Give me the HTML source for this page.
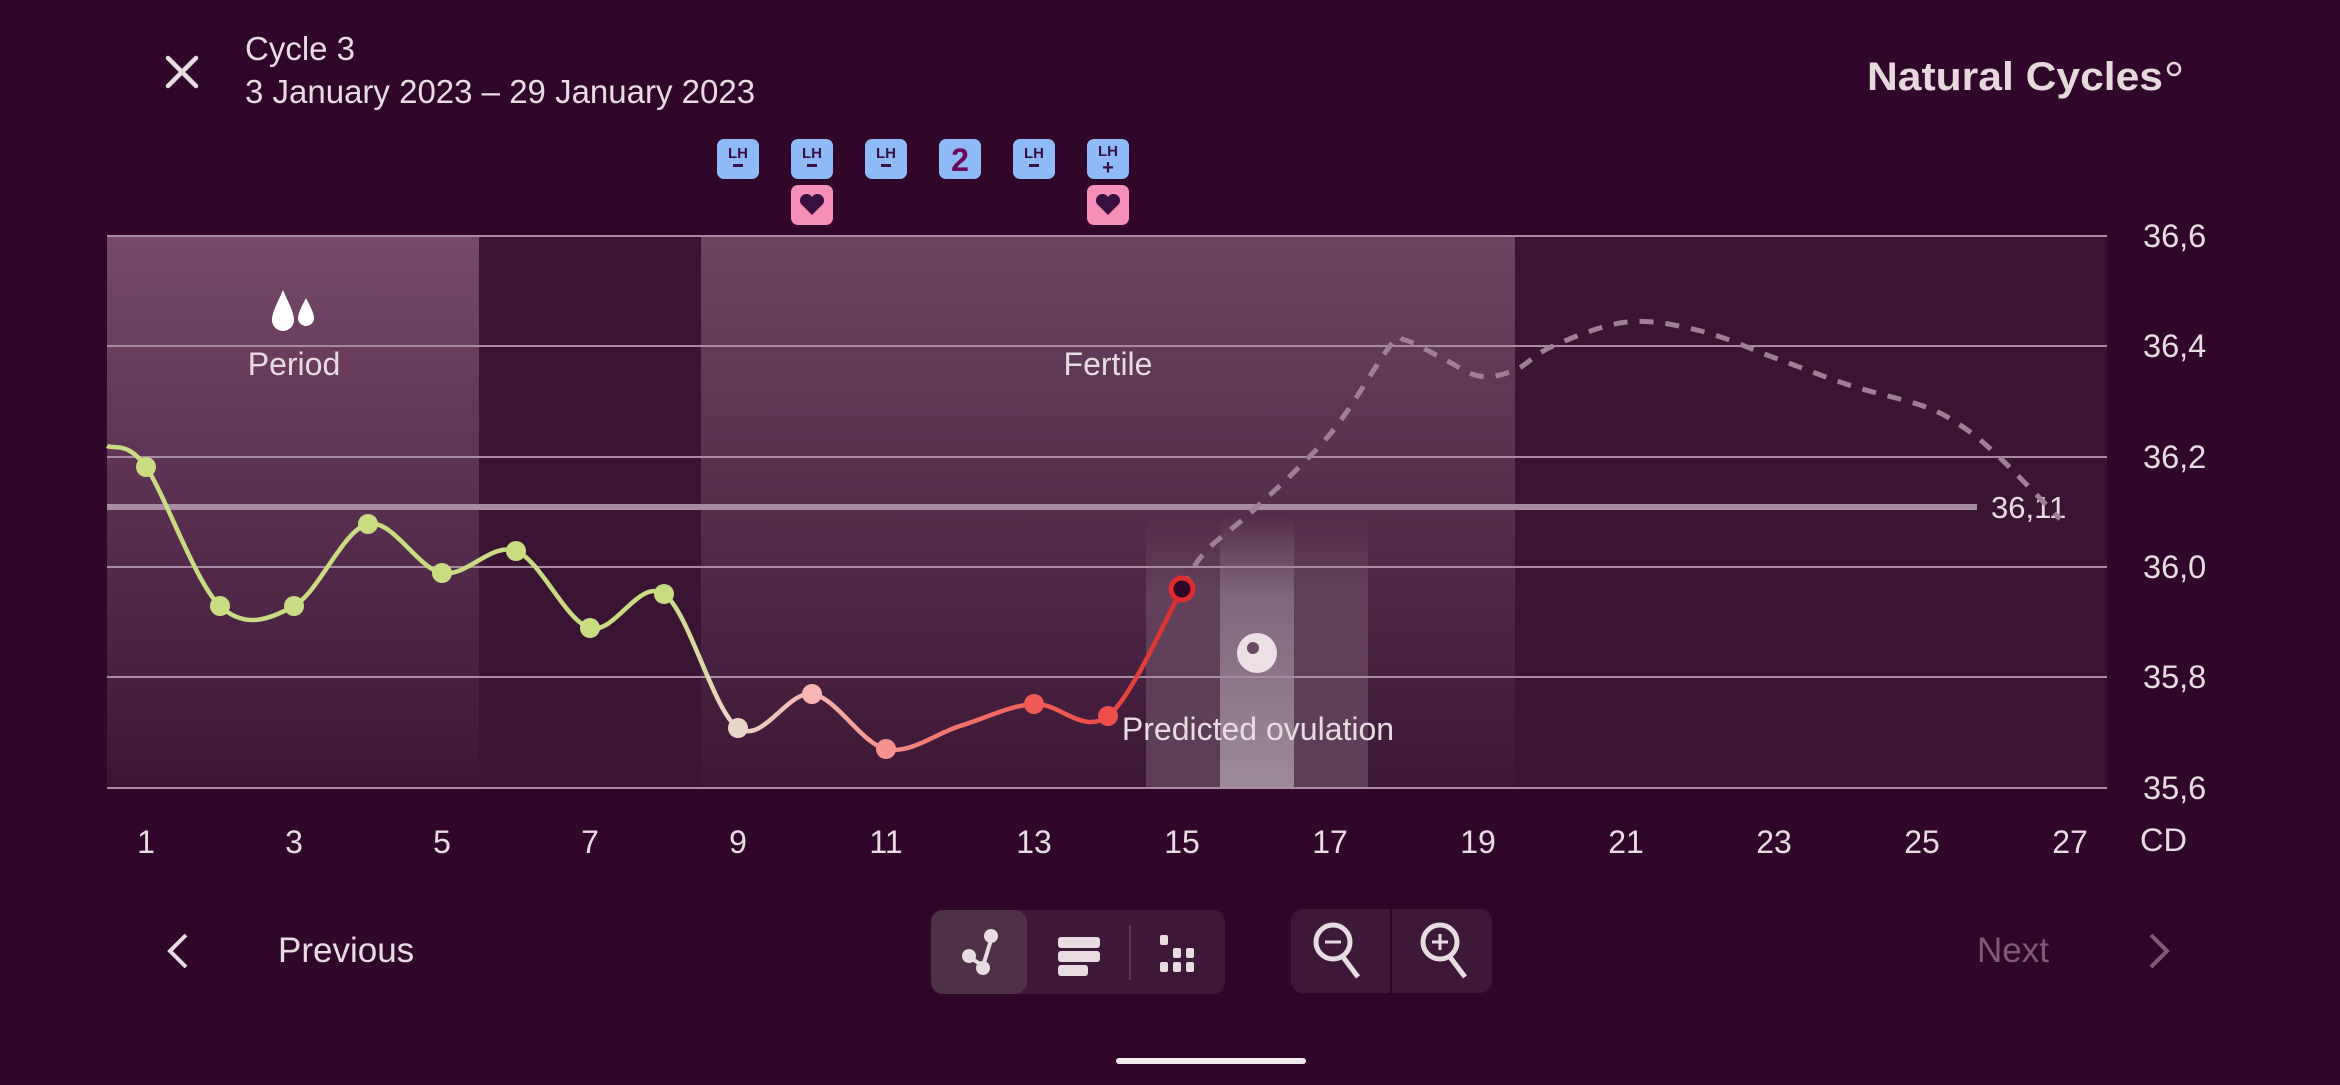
<!DOCTYPE html>
<html><head><meta charset="utf-8">
<style>
html,body{margin:0;padding:0;background:#30062a;}
body{width:2340px;height:1080px;overflow:hidden;font-family:"Liberation Sans",sans-serif;}
svg text{font-family:"Liberation Sans",sans-serif;}
</style></head>
<body>
<svg id="s" width="2340" height="1080" viewBox="0 0 2340 1080" xmlns="http://www.w3.org/2000/svg">
<defs>
<linearGradient id="gPer" x1="0" y1="0" x2="0" y2="1">
<stop offset="0" stop-color="#774869"/><stop offset="1" stop-color="#3c1535"/></linearGradient>
<linearGradient id="gFer" x1="0" y1="0" x2="0" y2="1">
<stop offset="0" stop-color="#6b4461"/><stop offset="1" stop-color="#3d1736"/></linearGradient>
<linearGradient id="gOv" x1="0" y1="0" x2="0" y2="1">
<stop offset="0" stop-color="#ffffff" stop-opacity="0"/><stop offset="0.3" stop-color="#ffffff" stop-opacity="0.12"/><stop offset="1" stop-color="#ffffff" stop-opacity="0.16"/></linearGradient>
<linearGradient id="gOv2" x1="0" y1="0" x2="0" y2="1">
<stop offset="0" stop-color="#ffffff" stop-opacity="0"/><stop offset="0.3" stop-color="#ffffff" stop-opacity="0.2"/><stop offset="1" stop-color="#ffffff" stop-opacity="0.4"/></linearGradient>
<linearGradient id="gLine" gradientUnits="userSpaceOnUse" x1="107" y1="0" x2="1182" y2="0">
<stop offset="0" stop-color="#c9dc82"/><stop offset="0.52" stop-color="#c9dc82"/>
<stop offset="0.58" stop-color="#ead6c8"/><stop offset="0.66" stop-color="#f7b3b0"/>
<stop offset="0.76" stop-color="#f47d77"/><stop offset="0.9" stop-color="#f05550"/><stop offset="1" stop-color="#dd2d2e"/></linearGradient>
</defs>
<rect x="107" y="236" width="2000" height="552" fill="#3b1433"/>
<rect x="107" y="236" width="372" height="552" fill="url(#gPer)"/>
<rect x="701" y="236" width="814" height="552" fill="url(#gFer)"/>
<rect x="1146" y="515" width="222" height="273" fill="url(#gOv)"/>
<rect x="1220" y="515" width="74" height="273" fill="url(#gOv2)"/>
<g stroke="#a98aa2" stroke-width="2">
<line x1="107" y1="236" x2="2107" y2="236"/>
<line x1="107" y1="346" x2="2107" y2="346"/>
<line x1="107" y1="457" x2="2107" y2="457"/>
<line x1="107" y1="567" x2="2107" y2="567"/>
<line x1="107" y1="677" x2="2107" y2="677"/>
<line x1="107" y1="788" x2="2107" y2="788"/>
</g>
<line x1="107" y1="507" x2="1977" y2="507" stroke="#a88ca3" stroke-width="6"/>
<text x="1991" y="518" font-size="31" fill="#e8dce2">36,11</text>
<g font-size="32.5" fill="#e8dce2">
<text x="2143" y="247">36,6</text><text x="2143" y="357">36,4</text>
<text x="2143" y="468">36,2</text><text x="2143" y="578">36,0</text>
<text x="2143" y="688">35,8</text><text x="2143" y="799">35,6</text>
<text x="2140" y="851">CD</text>
</g>
<g font-size="32" fill="#e8dce2" text-anchor="middle">
<text x="146" y="853">1</text><text x="294" y="853">3</text><text x="442" y="853">5</text><text x="590" y="853">7</text>
<text x="738" y="853">9</text><text x="886" y="853">11</text><text x="1034" y="853">13</text><text x="1182" y="853">15</text>
<text x="1330" y="853">17</text><text x="1478" y="853">19</text><text x="1626" y="853">21</text><text x="1774" y="853">23</text>
<text x="1922" y="853">25</text><text x="2070" y="853">27</text>
</g>
<g font-size="32" fill="#e8dce2" text-anchor="middle">
<text x="294" y="375">Period</text>
<text x="1108" y="375">Fertile</text>
<text x="1258" y="740">Predicted ovulation</text>
</g>
<path d="M283,290 C278,302 272,312 272,320 A11,11 0 0 0 294,320 C294,312 288,302 283,290Z" fill="#fff"/>
<path d="M306,298 C302,306 298,313 298,318 A8,8 0 0 0 314,318 C314,313 310,306 306,298Z" fill="#fff"/>
<circle cx="1257" cy="653" r="20" fill="#ece0e6"/>
<circle cx="1253" cy="648" r="6" fill="#6a4a62"/>
<path id="dash" d="" fill="none" stroke="#9d8097" stroke-width="5" stroke-dasharray="14 12"/>
<path id="main" d="" fill="none" stroke="url(#gLine)" stroke-width="4.5"/>
<g id="dots"></g>
<g font-size="15" font-weight="bold" fill="#3a1040" text-anchor="middle">
<g transform="translate(738,159)"><rect x="-21" y="-20" width="42" height="40" rx="7" fill="#8fbaf8"/><text y="-1">LH</text><rect x="-5" y="5" width="10" height="3" fill="#3a1040"/></g>
<g transform="translate(812,159)"><rect x="-21" y="-20" width="42" height="40" rx="7" fill="#8fbaf8"/><text y="-1">LH</text><rect x="-5" y="5" width="10" height="3" fill="#3a1040"/></g>
<g transform="translate(886,159)"><rect x="-21" y="-20" width="42" height="40" rx="7" fill="#8fbaf8"/><text y="-1">LH</text><rect x="-5" y="5" width="10" height="3" fill="#3a1040"/></g>
<g transform="translate(960,159)"><rect x="-21" y="-20" width="42" height="40" rx="7" fill="#8fbaf8"/><text y="12" font-size="32" fill="#6a0a55">2</text></g>
<g transform="translate(1034,159)"><rect x="-21" y="-20" width="42" height="40" rx="7" fill="#8fbaf8"/><text y="-1">LH</text><rect x="-5" y="5" width="10" height="3" fill="#3a1040"/></g>
<g transform="translate(1108,159)"><rect x="-21" y="-20" width="42" height="40" rx="7" fill="#8fbaf8"/><text y="-3">LH</text><text y="15" font-size="20">+</text></g>
<g transform="translate(812,205)"><rect x="-21" y="-20" width="42" height="40" rx="7" fill="#f690b8"/><path d="M0,10 L-11,-1 A6,6 0 0 1 0,-8 A6,6 0 0 1 11,-1Z" fill="#3a1040"/></g>
<g transform="translate(1108,205)"><rect x="-21" y="-20" width="42" height="40" rx="7" fill="#f690b8"/><path d="M0,10 L-11,-1 A6,6 0 0 1 0,-8 A6,6 0 0 1 11,-1Z" fill="#3a1040"/></g>
</g>
<g stroke="#e8dce2" stroke-width="4.5" stroke-linecap="round"><line x1="168" y1="58" x2="196" y2="86"/><line x1="196" y1="58" x2="168" y2="86"/></g>
<text x="245" y="60" font-size="33" fill="#e8dce2">Cycle 3</text>
<text x="245" y="103" font-size="33" fill="#e8dce2">3 January 2023 – 29 January 2023</text>
<text x="1867" y="90" font-size="40" font-weight="bold" fill="#e6d8dc" textLength="296" lengthAdjust="spacingAndGlyphs">Natural Cycles</text>
<circle cx="2174" cy="69" r="6" fill="none" stroke="#e6d8dc" stroke-width="2.5"/>
<polyline points="186,935 170,951 186,967" fill="none" stroke="#e8dce2" stroke-width="4"/>
<text x="278" y="962" font-size="35" fill="#e8dce2">Previous</text>
<rect x="931" y="910" width="294" height="84" rx="12" fill="#3e1838"/>
<rect x="931" y="910" width="96" height="84" rx="12" fill="#503048"/>
<line x1="1130" y1="925" x2="1130" y2="980" stroke="#5a3a52" stroke-width="2"/>
<g stroke="#e8dce2" stroke-width="4" fill="#e8dce2"><line x1="971" y1="958" x2="983" y2="966"/><line x1="983" y1="966" x2="991" y2="940"/><circle cx="969" cy="956" r="5"/><circle cx="983" cy="968" r="5"/><circle cx="991" cy="936" r="5"/></g>
<g fill="#e8dce2"><rect x="1058" y="937" width="42" height="11" rx="3"/><rect x="1058" y="951" width="42" height="11" rx="3"/><rect x="1058" y="965" width="30" height="11" rx="3"/>
<rect x="1160" y="935" width="8" height="10" rx="2"/><rect x="1173" y="948" width="8" height="10" rx="2"/><rect x="1186" y="948" width="8" height="10" rx="2"/><rect x="1160" y="962" width="8" height="10" rx="2"/><rect x="1173" y="962" width="8" height="10" rx="2"/><rect x="1186" y="962" width="8" height="10" rx="2"/></g>
<rect x="1291" y="909" width="201" height="84" rx="12" fill="#3e1838"/>
<line x1="1391" y1="909" x2="1391" y2="993" stroke="#2a0524" stroke-width="2"/>
<g stroke="#e8dce2" stroke-width="5" fill="none"><circle cx="1333" cy="942" r="17"/><line x1="1343" y1="957" x2="1358" y2="977"/><line x1="1325" y1="942" x2="1341" y2="942" stroke-width="3"/>
<circle cx="1440" cy="942" r="17"/><line x1="1450" y1="957" x2="1465" y2="977"/><line x1="1432" y1="942" x2="1448" y2="942" stroke-width="3"/><line x1="1440" y1="934" x2="1440" y2="950" stroke-width="3"/></g>
<text x="1977" y="962" font-size="35" fill="#7d5c77">Next</text>
<polyline points="2151,935 2167,951 2151,967" fill="none" stroke="#7d5c77" stroke-width="4"/>
<rect x="1116" y="1058" width="190" height="6" rx="3" fill="#f2eaee"/>
</svg>
<script>
function cr(p){let d="M"+p[0][0]+","+p[0][1];for(let i=0;i<p.length-1;i++){const a=p[Math.max(0,i-1)],b=p[i],c=p[i+1],e=p[Math.min(p.length-1,i+2)];
const c1=[b[0]+(c[0]-a[0])/6,b[1]+(c[1]-a[1])/6],c2=[c[0]-(e[0]-b[0])/6,c[1]-(e[1]-b[1])/6];
d+=" C"+c1.join(",")+" "+c2.join(",")+" "+c.join(",");}return d;}
const pts=[[107,446],[146,467],[220,606],[294,606],[368,524],[442,573],[516,551],[590,628],[664,594],[738,728],[812,694],[886,749],[960,726],[1034,704],[1108,716],[1182,589]];
document.getElementById("main").setAttribute("d",cr(pts));
const dp=[[1182,589],[1205,552],[1257,507],[1331,433],[1390,346],[1405,340],[1442,358],[1479,376],[1515,370],[1553,346],[1627,322],[1701,331],[1775,358],[1849,385],[1923,406],[1960,425],[1997,455],[2060,519]];
document.getElementById("dash").setAttribute("d",cr(dp));
const cols={146:"#c9dc82",220:"#c9dc82",294:"#c9dc82",368:"#c9dc82",442:"#c9dc82",516:"#c9dc82",590:"#c9dc82",664:"#c9dc82",738:"#ead6c8",812:"#f8b5b2",886:"#f6928e",1034:"#f05a55",1108:"#ee4f4c"};
let g="";for(const p of pts){if(cols[p[0]])g+=`<circle cx="${p[0]}" cy="${p[1]}" r="10" fill="${cols[p[0]]}"/>`;}
g+=`<circle cx="1182" cy="589" r="11" fill="#2e0628" stroke="#dd2d2e" stroke-width="5"/>`;
document.getElementById("dots").innerHTML=g;
</script>
</body></html>
